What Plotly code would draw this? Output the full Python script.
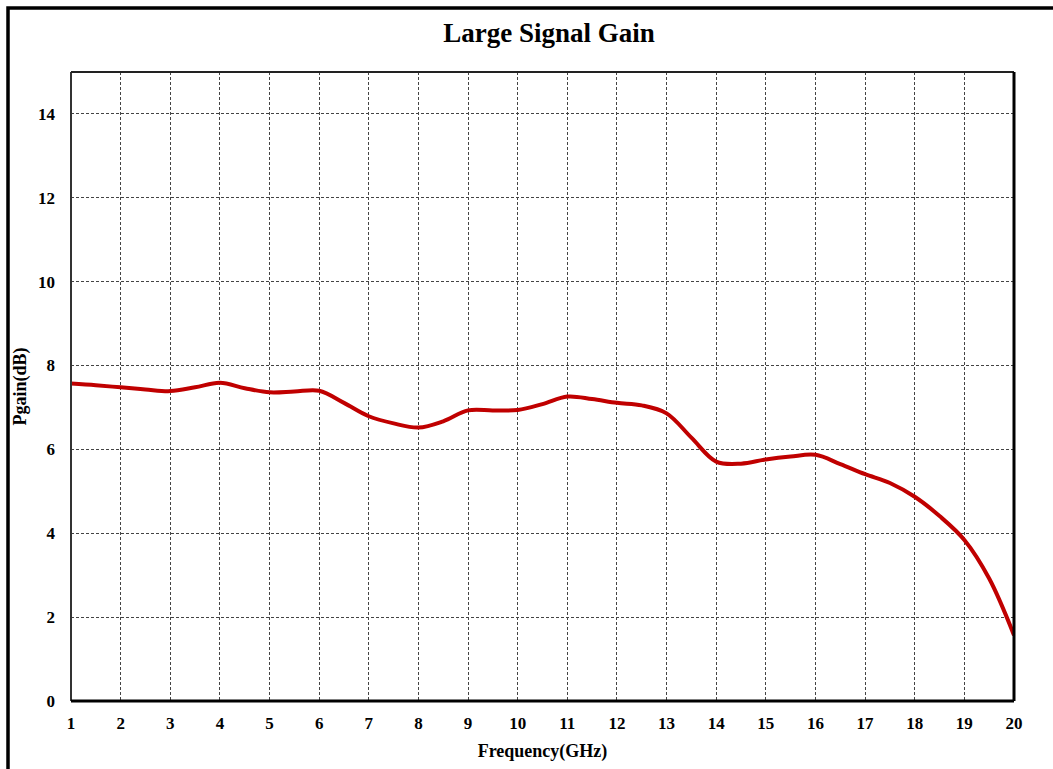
import plotly.graph_objects as go

# Large-signal gain sweep, 1-20 GHz
freq_ghz = [1, 1.5, 2, 2.5, 3, 3.5, 4, 4.5, 5, 5.5, 6, 6.5, 7, 7.5, 8, 8.5, 9, 9.5, 10,
            10.5, 11, 11.5, 12, 12.5, 13, 13.5, 14, 14.5, 15, 15.5, 16, 16.5, 17, 17.5,
            18, 18.5, 19, 19.5, 20]
gain_db = [7.57, 7.53, 7.48, 7.43, 7.39, 7.48, 7.59, 7.46, 7.36, 7.38, 7.40, 7.11, 6.79,
           6.62, 6.52, 6.67, 6.93, 6.93, 6.94, 7.08, 7.26, 7.20, 7.11, 7.05, 6.86, 6.28,
           5.71, 5.66, 5.76, 5.83, 5.87, 5.65, 5.41, 5.20, 4.87, 4.41, 3.84, 2.92, 1.57]

x_ticks = list(range(1, 21))
y_ticks = list(range(0, 15, 2))

FONT = "Liberation Serif"

fig = go.Figure()
fig.add_trace(go.Scatter(
    x=freq_ghz, y=gain_db, mode="lines",
    line=dict(color="#C00000", width=4, shape="spline", smoothing=1.0),
    showlegend=False,
))

grid = dict(showgrid=True, gridcolor="#444444", gridwidth=1, griddash="3px,2px",
            zeroline=False, showline=False, ticks="",
            tickfont=dict(family=FONT, size=17, color="black", weight="bold"))

fig.update_xaxes(range=[1, 20], tickvals=x_ticks, **grid,
                 ticklabelstandoff=10,
                 title=dict(text="Frequency(GHz)", standoff=12,
                            font=dict(family=FONT, size=18, color="black", weight="bold")))
fig.update_yaxes(range=[0, 15], tickvals=y_ticks, **grid,
                 ticklabelstandoff=15,
                 title=dict(text="Pgain(dB)", standoff=6,
                            font=dict(family=FONT, size=18, color="black", weight="bold")))

# Plot frame: thin dark left/top edges, heavier black right/bottom edges
frame = [
    dict(x0=0, x1=0, y0=0, y1=1, color="#333333", w=2),
    dict(x0=0, x1=1, y0=1, y1=1, color="#222222", w=2),
    dict(x0=1, x1=1, y0=0, y1=1, color="black", w=3),
    dict(x0=0, x1=1, y0=0, y1=0, color="black", w=3),
]
for f in frame:
    fig.add_shape(type="line", xref="paper", yref="paper",
                  x0=f["x0"], x1=f["x1"], y0=f["y0"], y1=f["y1"],
                  line=dict(color=f["color"], width=f["w"]), layer="above")

# Outer chart border
fig.add_shape(type="rect", xref="paper", yref="paper",
              x0=(8 - 71) / 943, x1=(1100 - 71) / 943,
              y0=(701 - 800) / 629, y1=(701 - 8) / 629,
              line=dict(color="black", width=3.5), fillcolor="rgba(0,0,0,0)",
              layer="above")

fig.update_layout(
    width=1053, height=769,
    margin=dict(l=71, r=39, t=72, b=68),
    paper_bgcolor="white", plot_bgcolor="white",
    title=dict(text="Large Signal Gain", x=549 / 1053, xanchor="center",
               y=1 - 33 / 769, yanchor="middle",
               font=dict(family=FONT, size=27, color="black", weight="bold")),
)

fig.write_html("out.html")
